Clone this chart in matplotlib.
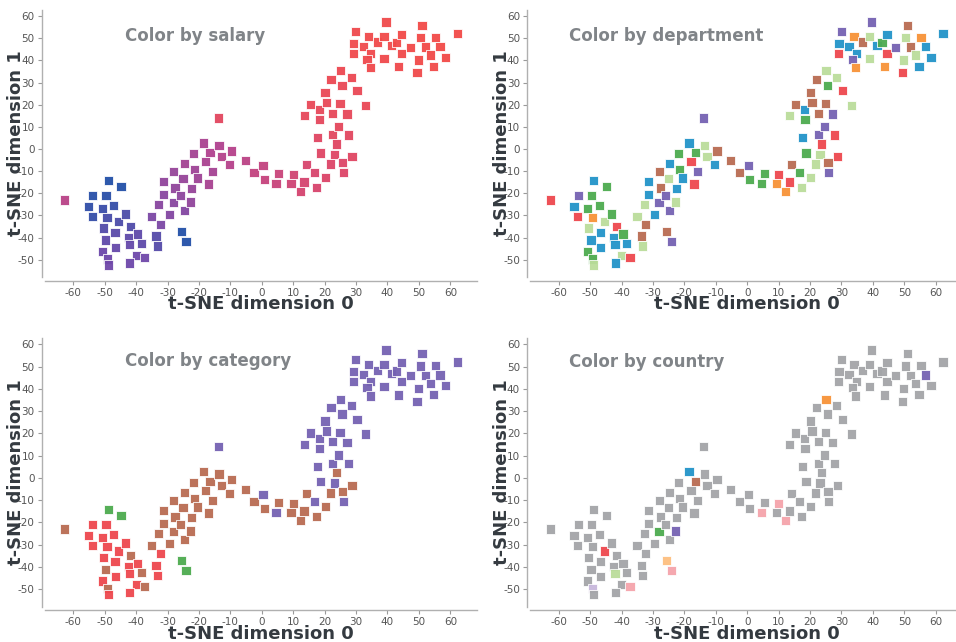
import matplotlib
matplotlib.use('Agg')
import matplotlib.pyplot as plt
from matplotlib.colors import LinearSegmentedColormap

# t-SNE coordinates
tsne_x = [-62.7, -53.8, -55.1, -54.0, -48.9, -49.6, -50.8, -47.1, -44.8, -49.3,
          -45.5, -50.5, -43.3, -46.7, -49.7, -46.6, -50.7, -49.2, -48.9, -41.7,
          -42.5, -39.5, -42.1, -38.3, -40.0, -37.3, -42.0, -35.1, -32.3, -33.7,
          -33.2, -32.8, -31.4, -31.3, -29.4, -28.0, -27.6, -28.1, -26.0, -25.1,
          -24.7, -24.7, -22.7, -22.5, -25.6, -24.1, -21.5, -20.5, -21.8, -18.5,
          -17.9, -16.5, -15.8, -16.9, -13.6, -13.9, -12.8, -10.4, -9.6, -5.2,
          -2.5, 0.4, 0.8, 4.5, 5.4, 9.3, 10.0, 12.2, 13.4, 14.1,
          16.7, 17.4, 20.2, 21.8, 18.7, 17.6, 23.2, 23.7, 25.7, 25.9,
          28.7, 27.7, 22.6, 24.5, 27.1, 22.6, 18.4, 13.5, 18.3, 15.4,
          20.6, 24.9, 20.1, 22.0, 25.5, 25.1, 28.5, 30.3, 33.1, 29.1,
          29.2, 29.9, 32.4, 34.0, 34.7, 33.5, 34.6, 36.7, 38.9, 39.5,
          38.9, 41.3, 42.9, 44.5, 44.5, 43.6, 47.3, 50.4, 51.0, 49.8,
          49.4, 52.1, 53.6, 55.3, 54.7, 56.7, 58.5, 62.3]
tsne_y = [-23.0, -20.9, -25.8, -30.5, -14.3, -20.9, -26.9, -25.4, -16.8, -30.9,
          -32.9, -35.7, -29.3, -37.8, -41.1, -44.3, -46.4, -49.7, -52.4, -35.0,
          -39.9, -38.4, -43.2, -42.5, -48.0, -48.9, -51.5, -30.3, -34.1, -39.3,
          -43.8, -24.9, -20.7, -14.6, -29.6, -10.2, -17.6, -24.3, -20.9, -13.4,
          -6.5, -27.6, -23.9, -17.7, -37.2, -41.6, -9.2, -13.1, -2.0, 2.7,
          -5.7, -1.5, -10.1, -15.8, 1.7, 14.0, -3.3, -7.1, -0.9, -5.1,
          -10.7, -7.5, -13.7, -15.6, -11.1, -15.5, -11.4, -19.1, -14.9, -6.9,
          -10.7, -17.3, -12.9, -6.8, -1.8, 5.1, -2.3, 2.3, -6.0, -10.5,
          -3.3, 6.3, 6.5, 10.2, 15.8, 16.2, 13.2, 15.0, 17.7, 20.1,
          21.0, 20.4, 25.5, 31.5, 28.7, 35.3, 32.4, 26.3, 19.7, 43.2,
          47.6, 53.0, 46.4, 50.9, 43.2, 40.5, 36.8, 48.3, 50.9, 57.4,
          41.0, 46.8, 48.0, 51.7, 43.2, 37.2, 45.8, 50.2, 55.7, 40.2,
          34.4, 46.1, 42.5, 50.3, 37.4, 46.2, 41.4, 52.0]

# salary level, 0 = lowest, 1 = highest
salary = [0.55, 0.02, 0.05, 0.06, 0.0, 0.03, 0.08, 0.06, 0.0, 0.12,
          0.14, 0.16, 0.14, 0.18, 0.2, 0.22, 0.24, 0.25, 0.26, 0.15,
          0.2, 0.2, 0.22, 0.2, 0.25, 0.26, 0.25, 0.3, 0.3, 0.17,
          0.17, 0.35, 0.35, 0.38, 0.33, 0.4, 0.38, 0.35, 0.37, 0.4,
          0.45, 0.33, 0.38, 0.4, 0.0, 0.0, 0.43, 0.43, 0.45, 0.48,
          0.48, 0.5, 0.46, 0.47, 0.5, 0.82, 0.52, 0.53, 0.53, 0.56,
          0.6, 0.6, 0.62, 0.63, 0.64, 0.67, 0.68, 0.7, 0.7, 0.72,
          0.72, 0.72, 0.75, 0.76, 0.78, 0.8, 0.78, 0.8, 0.76, 0.76,
          0.8, 0.82, 0.82, 0.84, 0.86, 0.86, 0.84, 0.86, 0.86, 0.88,
          0.88, 0.88, 0.9, 0.92, 0.9, 0.93, 0.92, 0.9, 0.9, 0.97,
          0.97, 0.96, 0.97, 0.98, 0.97, 0.96, 0.97, 0.98, 0.99, 0.98,
          0.97, 0.98, 0.99, 1.0, 0.98, 0.97, 0.99, 1.0, 1.0, 0.99,
          0.98, 1.0, 0.99, 1.0, 0.99, 1.0, 1.0, 1.0]

# one letter per point
department = list("RPBRBGGGGO" "LLGBBBGGLR" "BGBBLRBLNN" "LLBBBNNPPL" "BPLBNPGBGB"
                  "RGPRLPLBNN" "NPGGGORORN" "GLLLGBLRNP" "RRPPPNGLBN" "NNNNGLLRLR"
                  "BPBOBPONLP" "LBGBROPLNL" "RNLOBBBB")
category = list("NRRRGRRRGR" "RRRRNRRNRN" "RRRNRNRNRR" "RNNNNNNNNN" "NNNNGGNNNN"
                "NNNNNPNNNN" "NPNPNNNNNN" "PNNNPPPNNP" "NPPPPPPPPP" "PPPPPPPPPP"
                "PPPPPPPPPP" "PPPPPPPPPP" "PPPPPPPP")
country = list("xxxxxxxxxx" "RxxxxxxVxx" "xxLxxKxxxx" "xxxxxxxGxx" "xxPxYKxxxB"
               "xNxxxxxxxx" "xxxKxxKKxx" "xxxxxxxxxx" "xxxxxxxxxx" "xxxxxOxxxx"
               "xxxxxxxxxx" "xxxxxxxxxx" "xxxxxPxx")

palette = {'B': '#2394c9', 'R': '#ee484e', 'O': '#f79338', 'N': '#b96b52',
           'P': '#7562b2', 'G': '#4dab4f', 'L': '#bbdd9b', 'K': '#f5a3ab',
           'V': '#c7b8dc', 'Y': '#fdbf80', 'x': '#a3a5a8'}
salary_cmap = LinearSegmentedColormap.from_list(
    'salary', ['#2250a8', '#6e48aa', '#b0418e', '#dc4468', '#f24a48'])

plt.rcParams['font.family'] = 'DejaVu Sans'
plt.rcParams['axes.unicode_minus'] = False

fig = plt.figure(figsize=(9.56, 6.42), dpi=100)

# [left, bottom, width, height] in figure fractions
boxes = [[0.0471, 0.5678, 0.4519, 0.4174], [0.5548, 0.5678, 0.4519, 0.4174],
         [0.0471, 0.0548, 0.4519, 0.4193], [0.5548, 0.0548, 0.4519, 0.4193]]
titles = ['Color by salary', 'Color by department', 'Color by category', 'Color by country']
title_x = [0.1845, 0.0894, 0.1845, 0.0894]
title_y = [0.884, 0.884, 0.895, 0.892]

point_colors = [salary_cmap(salary),
                [palette[d] for d in department],
                [palette[c] for c in category],
                [palette[c] for c in country]]

for i in range(4):
    ax = fig.add_axes(boxes[i])
    ax.scatter(tsne_x, tsne_y, c=point_colors[i], marker='s', s=44,
               edgecolors='white', linewidths=0.6, alpha=0.95, zorder=3)
    ax.set_xlim(-69, 68.5)
    ax.set_ylim(-58, 63)
    ax.set_xticks(range(-60, 61, 10))
    ax.set_yticks(range(-50, 61, 10))
    ax.tick_params(labelsize=7.5, colors='#9a9a9a', labelcolor='#555555',
                   length=3, width=0.8, pad=2)
    for side in ['top', 'right']:
        ax.spines[side].set_visible(False)
    for side in ['left', 'bottom']:
        ax.spines[side].set_color('#b0b0b0')
        ax.spines[side].set_linewidth(1.0)
        ax.spines[side].set_position(('outward', 2.5))
    ax.set_xlabel('t-SNE dimension 0', fontsize=13, fontweight='bold', color='#343a40')
    ax.set_ylabel('t-SNE dimension 1', fontsize=13, fontweight='bold', color='#343a40')
    ax.xaxis.set_label_coords(0.5, -0.066)
    ax.yaxis.set_label_coords(-0.046, 0.5)
    ax.text(title_x[i], title_y[i], titles[i], transform=ax.transAxes,
            fontsize=12, fontweight='bold', color='#808488', va='baseline')

fig.savefig('out.png', dpi=100)
